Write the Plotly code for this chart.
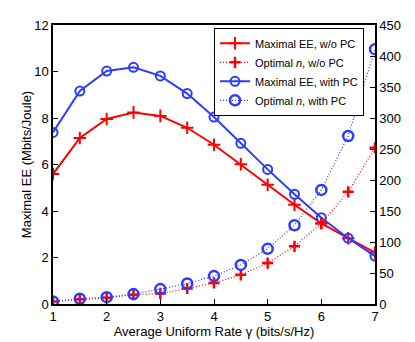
import plotly.graph_objects as go

# average uniform rate gamma (bits/s/Hz)
gamma = [1, 1.5, 2, 2.5, 3, 3.5, 4, 4.5, 5, 5.5, 6, 6.5, 7]

# maximal EE (Mbits/Joule)
ee_no_pc = [5.59, 7.14, 7.96, 8.24, 8.09, 7.58, 6.85, 6.01, 5.13, 4.27, 3.47, 2.83, 2.21]
ee_pc = [7.38, 9.16, 10.02, 10.18, 9.81, 9.05, 8.04, 6.91, 5.79, 4.72, 3.71, 2.83, 2.06]

# optimal n (right axis)
n_no_pc = [4, 7.5, 10, 15, 17, 25, 34, 47, 66, 93, 130, 181, 252]
n_pc = [4, 8.5, 11, 16, 24, 33, 45, 63, 89, 127, 184, 271, 411]

RED = "#ff0000"
BLUE = "#2b3cff"

fig = go.Figure()

fig.add_trace(go.Scatter(
    x=gamma, y=ee_no_pc, name="Maximal EE, w/o PC", mode="lines+markers",
    line=dict(color=RED, width=2),
    marker=dict(symbol="cross-thin", size=9, line=dict(color=RED, width=2)),
))
fig.add_trace(go.Scatter(
    x=gamma, y=n_no_pc, name="Optimal <i>n</i>, w/o PC", mode="lines+markers", yaxis="y2",
    line=dict(color=RED, width=1.2, dash="1px,2px"),
    marker=dict(symbol="cross-thin", size=8, line=dict(color=RED, width=2.5)),
))
fig.add_trace(go.Scatter(
    x=gamma, y=ee_pc, name="Maximal EE, with PC", mode="lines+markers",
    line=dict(color=BLUE, width=2),
    marker=dict(symbol="circle-open", size=9, line=dict(color=BLUE, width=2)),
))
fig.add_trace(go.Scatter(
    x=gamma, y=n_pc, name="Optimal <i>n</i>, with PC", mode="lines+markers", yaxis="y2",
    line=dict(color=BLUE, width=1.2, dash="1px,2px"),
    marker=dict(symbol="circle-open", size=10, line=dict(color=BLUE, width=2.5)),
))

axis_common = dict(
    showline=True, linecolor="black", linewidth=1.5,
    ticks="inside", ticklen=5, tickcolor="black",
    showgrid=False, zeroline=False, automargin=False,
    tickfont=dict(size=13, color="black"),
)

fig.update_layout(
    width=415, height=342,
    margin=dict(l=53, r=40, t=25, b=38),
    paper_bgcolor="white", plot_bgcolor="white",
    font=dict(family="Liberation Sans, Arial, sans-serif", color="black"),
    xaxis=dict(
        range=[1, 7], dtick=1, mirror=True,
        title=dict(text="Average Uniform Rate γ (bits/s/Hz)", font=dict(size=13), standoff=1),
        **axis_common,
    ),
    yaxis=dict(
        range=[0, 12], dtick=2,
        title=dict(text="Maximal EE (Mbits/Joule)", font=dict(size=13), standoff=0),
        **axis_common,
    ),
    yaxis2=dict(
        range=[0, 450], dtick=50, overlaying="y", side="right",
        **axis_common,
    ),
    legend=dict(
        x=0.5, y=0.99, xanchor="left", yanchor="top",
        bgcolor="white", bordercolor="black", borderwidth=1,
        font=dict(size=11), tracegroupgap=0, itemwidth=30,
    ),
)

fig.write_html("out.html", config={"displayModeBar": False},
               post_script="document.body.style.margin='0';")
